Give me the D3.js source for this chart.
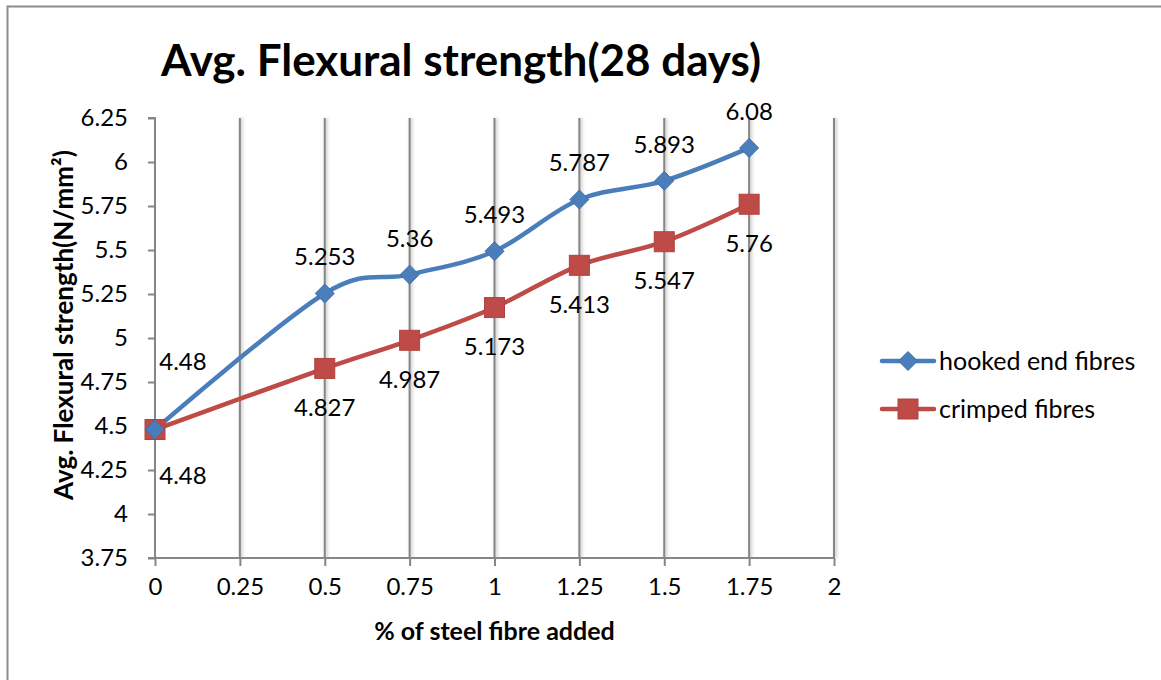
<!DOCTYPE html>
<html>
<head>
<meta charset="utf-8">
<script src="https://cdn.jsdelivr.net/npm/d3@7"></script>
<style>
  html, body { margin: 0; padding: 0; background: #fff; }
  svg { display: block; }
  text { font-family: Lato, "Liberation Sans", sans-serif; fill: #000; }
</style>
</head>
<body>
<svg id="chart" width="1161" height="680"></svg>
<script>
// ---- data ----
const xValues = [0, 0.5, 0.75, 1, 1.25, 1.5, 1.75];
const hookedValues = [4.48, 5.253, 5.36, 5.493, 5.787, 5.893, 6.08];
const crimpedValues = [4.48, 4.827, 4.987, 5.173, 5.413, 5.547, 5.76];
const seriesNames = ["hooked end fibres", "crimped fibres"];
const xTicks = [0, 0.25, 0.5, 0.75, 1, 1.25, 1.5, 1.75, 2];
const yTicks = [3.75, 4, 4.25, 4.5, 4.75, 5, 5.25, 5.5, 5.75, 6, 6.25];
const titleText = "Avg. Flexural strength(28 days)";
const xTitle = "% of steel fibre added";
const yTitle = "Avg. Flexural strength(N/mm²)";

// ---- layout ----
const svg = d3.select("#chart");
const W = 1161, H = 680;
const plot = { left: 155, right: 834, top: 118, bottom: 558 };
const blue = "#4a7ebb", red = "#be4b48", gridCol = "#868686";

const x = d3.scaleLinear().domain([0, 2]).range([plot.left, plot.right]);
const y = d3.scaleLinear().domain([3.75, 6.25]).range([plot.bottom, plot.top]);

const defs = svg.append("defs");
defs.append("filter").attr("id", "shadow").attr("x", "-50%").attr("width", "200%")
  .append("feGaussianBlur").attr("stdDeviation", 1.6);

// outer frame
svg.append("path")
  .attr("d", `M7.5,${H} L7.5,6.5 L${W},6.5`)
  .attr("fill", "none").attr("stroke", "#8c8c8c").attr("stroke-width", 2);

// title
svg.append("text").attr("x", 461).attr("y", 76).attr("text-anchor", "middle")
  .attr("font-size", 44).attr("font-weight", "bold").text(titleText);

// gridlines (vertical) with soft shadow
const gridX = xTicks.filter(d => d > 0);
svg.append("g").attr("filter", "url(#shadow)").selectAll("line").data(gridX).join("line")
  .attr("x1", d => x(d) + 1.5).attr("x2", d => x(d) + 1.5)
  .attr("y1", plot.top).attr("y2", plot.bottom)
  .attr("stroke", "#d0d0d0").attr("stroke-width", 3);
svg.append("g").selectAll("line").data(gridX).join("line")
  .attr("x1", d => x(d)).attr("x2", d => x(d))
  .attr("y1", plot.top).attr("y2", plot.bottom)
  .attr("stroke", gridCol).attr("stroke-width", 2);

// axes
const yAxis = d3.axisLeft(y).tickValues(yTicks).tickSize(7).tickPadding(20)
  .tickFormat(d => d3.format("")(d));
const gy = svg.append("g").attr("transform", `translate(${plot.left},0)`).call(yAxis);
gy.select(".domain").attr("stroke", gridCol).attr("stroke-width", 2).attr("d", `M-7,${plot.top}H0V${plot.bottom}H-7`);
gy.selectAll(".tick line").attr("stroke", gridCol).attr("stroke-width", 2);
gy.selectAll(".tick text").attr("font-size", 24).attr("font-family", "Lato").attr("fill", "#000");

const xAxis = d3.axisBottom(x).tickValues(xTicks).tickSize(8).tickPadding(12)
  .tickFormat(d => d3.format("")(d));
const gx = svg.append("g").attr("transform", `translate(0,${plot.bottom})`).call(xAxis);
gx.select(".domain").attr("stroke", gridCol).attr("stroke-width", 2).attr("d", `M${plot.left},0H${plot.right}`);
gx.selectAll(".tick line").attr("stroke", gridCol).attr("stroke-width", 2);
gx.selectAll(".tick text").attr("font-size", 24).attr("font-family", "Lato").attr("fill", "#000");

// axis titles
svg.append("text").attr("x", (plot.left + plot.right) / 2).attr("y", 640)
  .attr("text-anchor", "middle").attr("font-size", 25).attr("font-weight", "bold").text(xTitle);
svg.append("text").attr("transform", "translate(73,325) rotate(-90)")
  .attr("text-anchor", "middle").attr("font-size", 26).attr("font-weight", "bold").text(yTitle);

// series
const series = [
  { name: seriesNames[0], values: hookedValues, color: blue, marker: "diamond", labelPos: "above" },
  { name: seriesNames[1], values: crimpedValues, color: red, marker: "square", labelPos: "below" }
];
const line = d3.line().x(d => x(d[0])).y(d => y(d[1])).curve(d3.curveCatmullRom.alpha(0));

function drawMarker(g, type, cx, cy, color) {
  if (type === "diamond") {
    g.append("path").attr("d", `M${cx},${cy - 9.5}L${cx + 9.5},${cy}L${cx},${cy + 9.5}L${cx - 9.5},${cy}Z`)
      .attr("fill", color).attr("stroke", "#3d6fa8").attr("stroke-width", 1);
  } else {
    g.append("rect").attr("x", cx - 10).attr("y", cy - 10).attr("width", 20).attr("height", 20)
      .attr("fill", color).attr("stroke", "#b04340").attr("stroke-width", 1);
  }
}

series.forEach(s => {
  const pts = xValues.map((xv, i) => [xv, s.values[i]]);
  svg.append("path").datum(pts).attr("d", line)
    .attr("fill", "none").attr("stroke", s.color).attr("stroke-width", 4.5)
    .attr("stroke-linejoin", "round").attr("stroke-linecap", "round");
});
series.slice().reverse().forEach(s => {
  const g = svg.append("g");
  xValues.forEach((xv, i) => drawMarker(g, s.marker, x(xv), y(s.values[i]), s.color));
});
series.forEach(s => {
  const g = svg.append("g");
  xValues.forEach((xv, i) => {
    const px = x(xv), py = y(s.values[i]);
    let lx = px, ly;
    if (s.labelPos === "above") ly = py - 36.5; else ly = py + 39;
    if (i === 0) { lx = px + 28; ly = s.labelPos === "above" ? py - 68 : py + 46; }
    g.append("text").attr("x", lx).attr("y", ly).attr("dy", "0.35em")
      .attr("text-anchor", "middle").attr("font-size", 24).text(s.values[i]);
  });
});

// legend
const legY = [361, 409];
series.forEach((s, i) => {
  const g = svg.append("g");
  g.append("line").attr("x1", 882).attr("x2", 934).attr("y1", legY[i]).attr("y2", legY[i])
    .attr("stroke", s.color).attr("stroke-width", 4.5).attr("stroke-linecap", "round");
  drawMarker(g, s.marker, 908, legY[i], s.color);
  g.append("text").attr("x", 939).attr("y", legY[i]).attr("dy", "0.35em")
    .attr("font-size", 25).text(s.name);
});
</script>
</body>
</html>
